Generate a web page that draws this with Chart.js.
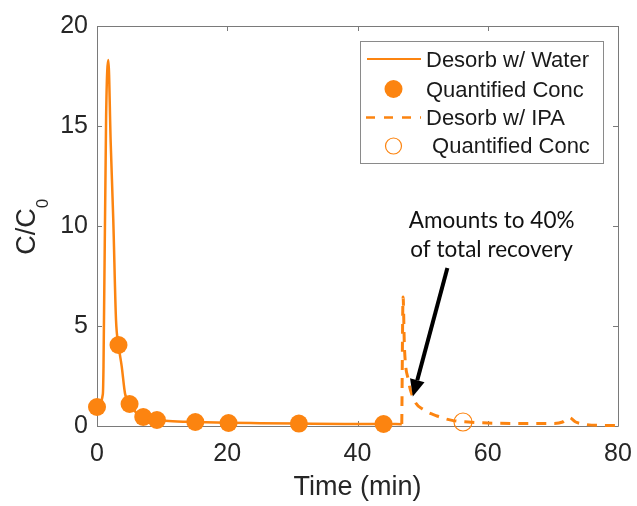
<!DOCTYPE html>
<html>
<head>
<meta charset="utf-8">
<script src="https://cdn.jsdelivr.net/npm/chart.js@4/dist/chart.umd.min.js"></script>
<style>
  html, body { margin: 0; padding: 0; background: #ffffff; }
  #wrap { width: 637px; height: 506px; position: relative; }
</style>
</head>
<body>
<div id="wrap"><canvas id="c" width="637" height="506"></canvas></div>
<script>
// ---- data ----
const waterLineX = [0, 0.9, 1.0, 1.4, 1.74, 2.1, 2.5, 2.92, 3.3, 3.8, 4.3, 5.0, 6.1, 7.1, 8.0, 9.2, 11, 15, 20, 25, 31, 38, 44, 46.8];
const waterLineY = [0.95, 1.6, 3.0, 15.5, 18.3, 14.2, 10.3, 5.3, 4.05, 2.97, 1.63, 1.13, 0.63, 0.45, 0.36, 0.3, 0.25, 0.2, 0.16, 0.14, 0.12, 0.1, 0.1, 0.09];

const waterConcX = [0, 3.3, 5.0, 7.1, 9.2, 15.1, 20.2, 31.0, 44.0];
const waterConcY = [0.95, 4.05, 1.1, 0.45, 0.3, 0.2, 0.15, 0.12, 0.1];

const ipaLineX = [46.8, 47.0, 47.2, 47.8, 48.7, 50.2, 52.2, 54.7, 57, 60, 65, 70, 71.5, 72.5, 73.5, 75, 77, 80];
const ipaLineY = [0.1, 6.45, 4.0, 2.3, 1.3, 0.8, 0.5, 0.27, 0.2, 0.15, 0.13, 0.13, 0.2, 0.42, 0.2, 0.08, 0.03, 0.02];

const ipaConcX = [56.2];
const ipaConcY = [0.2];

const xTicks = [0, 20, 40, 60, 80];
const yTicks = [0, 5, 10, 15, 20];

const legendLabels = ['Desorb w/ Water', 'Quantified Conc', 'Desorb w/ IPA', ' Quantified Conc'];
const xTitle = 'Time (min)';
const yTitleMain = 'C/C';
const yTitleSub = '0';
const noteLines = ['Amounts to 40%', 'of total recovery'];
const noteAnchor = [60.6, 10.3];      // data coords of note centre (first line)
const arrowFrom = [53.8, 7.9];
const arrowTo = [48.5, 1.47];

// ---- styles ----
const ORANGE = '#FC8410';
const AXIS = '#7a7a7a';
const TEXT = '#262626';
const FONT = '"Liberation Sans", Arial, sans-serif';

const pts = (xs, ys) => xs.map((x, i) => ({x: x, y: ys[i]}));

const framePlugin = {
  id: 'frame',
  beforeDatasetsDraw(chart) {
    const {ctx, chartArea: a, scales: {x, y}} = chart;
    ctx.save();
    ctx.strokeStyle = AXIS;
    ctx.lineWidth = 1;
    ctx.beginPath();
    ctx.rect(Math.round(a.left) + 0.5, Math.round(a.top) + 0.5, Math.round(a.right - a.left), Math.round(a.bottom - a.top));
    ctx.stroke();
    const tl = 5;
    ctx.beginPath();
    xTicks.forEach(v => {
      const px = Math.round(x.getPixelForValue(v)) + 0.5;
      ctx.moveTo(px, a.bottom); ctx.lineTo(px, a.bottom - tl);
      ctx.moveTo(px, a.top); ctx.lineTo(px, a.top + tl);
    });
    yTicks.forEach(v => {
      const py = Math.round(y.getPixelForValue(v)) + 0.5;
      ctx.moveTo(a.left, py); ctx.lineTo(a.left + tl, py);
      ctx.moveTo(a.right, py); ctx.lineTo(a.right - tl, py);
    });
    ctx.stroke();
    ctx.restore();
  },
  afterDatasetsDraw(chart) {
    const {ctx, scales: {x, y}} = chart;
    ctx.save();
    // y axis title with subscript
    ctx.fillStyle = TEXT;
    ctx.font = '27px ' + FONT;
    const wMain = ctx.measureText(yTitleMain).width;
    ctx.font = '17px ' + FONT;
    const wSub = ctx.measureText(yTitleSub).width;
    const total = wMain + wSub;
    ctx.translate(0, 226.7);
    ctx.rotate(-Math.PI / 2);
    ctx.textBaseline = 'alphabetic';
    ctx.textAlign = 'left';
    ctx.font = '27px ' + FONT;
    ctx.fillText(yTitleMain, -total / 2, 35);
    ctx.font = '17px ' + FONT;
    ctx.fillText(yTitleSub, -total / 2 + wMain, 48);
    ctx.restore();

    // arrow
    ctx.save();
    const x0 = x.getPixelForValue(arrowFrom[0]), y0 = y.getPixelForValue(arrowFrom[1]);
    const x1 = x.getPixelForValue(arrowTo[0]), y1 = y.getPixelForValue(arrowTo[1]);
    const ang = Math.atan2(y1 - y0, x1 - x0);
    const hl = 17, hw = 7.5;
    const bx = x1 - hl * Math.cos(ang), by = y1 - hl * Math.sin(ang);
    ctx.strokeStyle = '#000'; ctx.fillStyle = '#000';
    ctx.lineWidth = 4;
    ctx.beginPath(); ctx.moveTo(x0, y0); ctx.lineTo(bx, by); ctx.stroke();
    ctx.beginPath();
    ctx.moveTo(x1, y1);
    ctx.lineTo(bx + hw * Math.sin(ang), by - hw * Math.cos(ang));
    ctx.lineTo(bx - hw * Math.sin(ang), by + hw * Math.cos(ang));
    ctx.closePath(); ctx.fill();
    // note text
    ctx.fillStyle = '#111';
    ctx.font = '22.5px Lato, "Open Sans", sans-serif';
    ctx.textAlign = 'center';
    ctx.textBaseline = 'alphabetic';
    const nx = x.getPixelForValue(noteAnchor[0]);
    const ny = y.getPixelForValue(noteAnchor[1]);
    ctx.fillText(noteLines[0], nx, ny + 7.5);
    ctx.fillText(noteLines[1], nx, ny + 37);
    ctx.restore();
  },
  afterDraw(chart) {
    const {ctx} = chart;
    ctx.save();
    const L = 360.5, T = 41.5, W = 243, H = 122;
    ctx.fillStyle = '#fff';
    ctx.fillRect(L, T, W, H);
    ctx.strokeStyle = '#8a8a8a';
    ctx.lineWidth = 1;
    ctx.strokeRect(L, T, W, H);
    const rows = [59, 89, 117.5, 146];
    const base = [66.7, 96.7, 125, 153.3];
    // row 1 solid line
    ctx.strokeStyle = ORANGE;
    ctx.lineWidth = 2.2;
    ctx.beginPath(); ctx.moveTo(367, rows[0]); ctx.lineTo(421, rows[0]); ctx.stroke();
    // row 2 filled circle
    ctx.fillStyle = ORANGE;
    ctx.beginPath(); ctx.arc(393.5, rows[1], 9, 0, Math.PI * 2); ctx.fill();
    // row 3 dashed
    ctx.lineWidth = 2.6;
    ctx.setLineDash([9, 9]);
    ctx.beginPath(); ctx.moveTo(366, rows[2]); ctx.lineTo(421, rows[2]); ctx.stroke();
    ctx.setLineDash([]);
    // row 4 open circle
    ctx.lineWidth = 1.2;
    ctx.beginPath(); ctx.arc(393.5, rows[3], 8, 0, Math.PI * 2); ctx.stroke();
    // texts
    ctx.fillStyle = '#1a1a1a';
    ctx.font = '22px ' + FONT;
    ctx.textAlign = 'left';
    ctx.textBaseline = 'alphabetic';
    legendLabels.forEach((t, i) => ctx.fillText(t, 426, base[i]));
    ctx.restore();
  }
};

new Chart(document.getElementById('c'), {
  type: 'scatter',
  data: {
    datasets: [
      { label: legendLabels[1], data: pts(waterConcX, waterConcY), showLine: false,
        pointRadius: 9, pointHoverRadius: 9, pointBackgroundColor: ORANGE, pointBorderColor: ORANGE,
        pointBorderWidth: 0, clip: false, order: 1 },
      { label: legendLabels[3], data: pts(ipaConcX, ipaConcY), showLine: false,
        pointRadius: 9, pointBackgroundColor: 'rgba(0,0,0,0)', pointBorderColor: ORANGE,
        pointBorderWidth: 1.2, clip: false, order: 1 },
      { label: legendLabels[0], data: pts(waterLineX, waterLineY), showLine: true,
        borderColor: ORANGE, borderWidth: 2.5, pointRadius: 0, cubicInterpolationMode: 'monotone',
        fill: false, clip: false, order: 2 },
      { label: legendLabels[2], data: pts(ipaLineX, ipaLineY), showLine: true,
        borderColor: ORANGE, borderWidth: 3, borderDash: [10, 8], pointRadius: 0,
        cubicInterpolationMode: 'monotone', fill: false, clip: false, order: 2 }
    ]
  },
  options: {
    responsive: false,
    animation: false,
    events: [],
    layout: { padding: { top: 26, right: 19, left: 0, bottom: 0 } },
    plugins: { legend: { display: false }, tooltip: { enabled: false } },
    scales: {
      x: {
        type: 'linear', min: 0, max: 80,
        afterFit: s => { s.height = 80; s.paddingLeft = 0; s.paddingRight = 0; },
        afterBuildTicks: s => { s.ticks = xTicks.map(v => ({value: v})); },
        grid: { display: false, drawTicks: false },
        border: { display: false },
        ticks: { color: TEXT, font: { family: FONT, size: 25 }, padding: 13, maxRotation: 0 },
        title: { display: true, text: xTitle, color: TEXT, font: { family: FONT, size: 27 }, padding: { top: 0, bottom: 2 } }
      },
      y: {
        type: 'linear', min: 0, max: 20,
        afterFit: s => { s.width = 97; s.paddingTop = 0; s.paddingBottom = 0; },
        afterBuildTicks: s => { s.ticks = yTicks.map(v => ({value: v})); },
        grid: { display: false, drawTicks: false },
        border: { display: false },
        ticks: { color: TEXT, font: { family: FONT, size: 25 }, padding: 9 },
        title: { display: false }
      }
    }
  },
  plugins: [framePlugin]
});
</script>
</body>
</html>
